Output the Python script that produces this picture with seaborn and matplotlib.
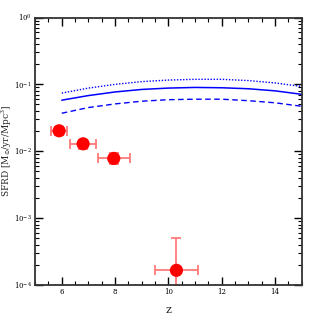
import matplotlib
matplotlib.use("Agg")
import matplotlib.pyplot as plt
import matplotlib.ticker as mticker
import seaborn as sns
import numpy as np
import pandas as pd

# model curves
z_model = [6, 7, 8, 9, 10, 11, 12, 13, 14, 15]
sfrd_mid = [0.058, 0.068, 0.077, 0.084, 0.088, 0.090, 0.089, 0.086, 0.080, 0.071]
sfrd_high = [0.074, 0.088, 0.100, 0.110, 0.116, 0.119, 0.119, 0.114, 0.105, 0.093]
sfrd_low = [0.037, 0.045, 0.051, 0.056, 0.059, 0.060, 0.060, 0.057, 0.053, 0.047]

# observed points
z_obs = [5.9, 6.8, 7.95, 10.3]
z_err = [0.3, 0.5, 0.6, 0.8]
sfrd_obs = [0.0202, 0.0129, 0.0078, 0.000165]
sfrd_err_lo = [0.003, 0.002, 0.0013, 0.00007]
sfrd_err_hi = [0.003, 0.002, 0.0015, 0.000345]

sns.set_theme(style="ticks")
plt.rcParams["font.family"] = ["DejaVu Serif"]
plt.rcParams["mathtext.fontset"] = "dejavuserif"

fig = plt.figure(figsize=(3.19, 3.19), dpi=100)
ax = fig.add_axes([0.11, 0.107, 0.836, 0.838])

model = pd.DataFrame({"z": z_model, "mid": sfrd_mid, "high": sfrd_high, "low": sfrd_low})
sns.lineplot(data=model, x="z", y="high", ax=ax, color="blue", lw=1.0, linestyle=(0, (1, 1.2)))
sns.lineplot(data=model, x="z", y="mid", ax=ax, color="blue", lw=1.1)
sns.lineplot(data=model, x="z", y="low", ax=ax, color="blue", lw=1.0, linestyle=(0, (4, 2.5)))

ax.errorbar(z_obs, sfrd_obs, xerr=z_err, yerr=[sfrd_err_lo, sfrd_err_hi],
            fmt="none", ecolor="#ff7070", elinewidth=1.2, capsize=3.5, capthick=1.2)
obs = pd.DataFrame({"z": z_obs, "sfrd": sfrd_obs})
sns.scatterplot(data=obs, x="z", y="sfrd", ax=ax, color="red", s=90, edgecolor="none", zorder=5)

ax.set_yscale("log")
ax.set_xlim(5, 15)
ax.set_ylim(1e-4, 1)
ax.xaxis.set_major_locator(mticker.MultipleLocator(2))
ax.xaxis.set_minor_locator(mticker.MultipleLocator(0.5))
ax.yaxis.set_major_locator(mticker.LogLocator(base=10, numticks=10))
ax.yaxis.set_minor_locator(mticker.LogLocator(base=10, subs=np.arange(2, 10), numticks=10))
ax.yaxis.set_minor_formatter(mticker.NullFormatter())

ax.tick_params(which="both", direction="in", top=True, right=True, labelsize=5, colors="black", pad=2.5)
ax.tick_params(which="major", length=6, width=1.0)
ax.tick_params(which="minor", length=3, width=0.8)
for s in ax.spines.values():
    s.set_linewidth(1.3)
    s.set_color("#333333")

ax.set_xlabel("z", fontsize=8, labelpad=6)
ax.set_ylabel(r"SFRD [M$_{\odot}$/yr/Mpc$^3$]", fontsize=6.5)
ax.yaxis.set_label_coords(-0.08, 0.5)

fig.savefig("out.png", dpi=100)
